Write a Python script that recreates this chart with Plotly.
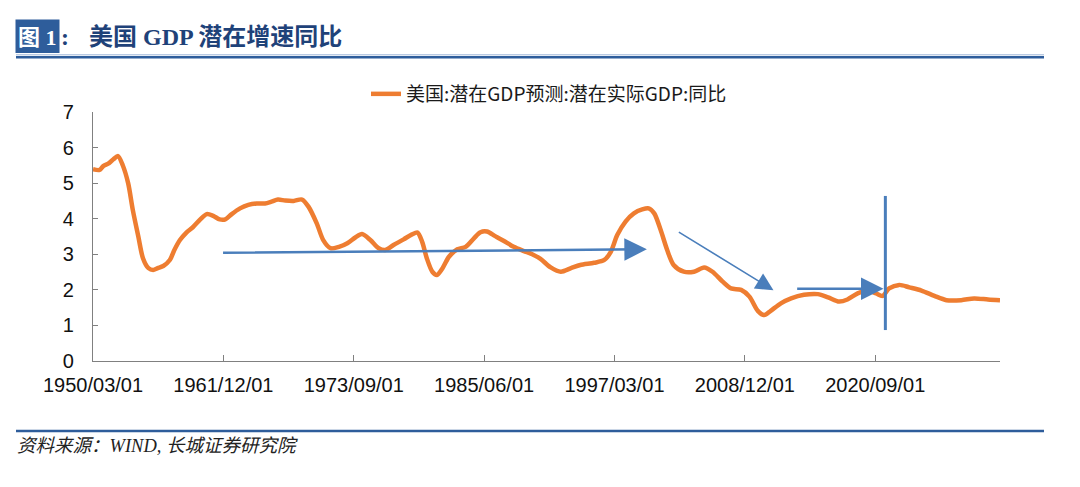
import plotly.graph_objects as go

# ---- data ----
dates = [
    "1950-03-01", "1950-10-01", "1951-02-01", "1951-07-01", "1952-01-01", "1952-06-01", "1952-11-01",
    "1953-05-01", "1953-10-01", "1954-04-01", "1954-09-01", "1955-03-01", "1955-08-01", "1956-01-01",
    "1956-07-01", "1957-02-01", "1957-07-01", "1958-01-01", "1958-08-01", "1959-03-01", "1959-11-01",
    "1960-06-01", "1961-01-01", "1961-08-01", "1962-02-01", "1962-09-01", "1963-06-01", "1964-03-01",
    "1964-12-01", "1965-09-01", "1966-04-01", "1966-11-01", "1967-07-01", "1968-04-01", "1969-01-01",
    "1969-08-01", "1970-05-01", "1970-12-01", "1971-08-01", "1972-05-01", "1973-02-01", "1973-11-01",
    "1974-06-01", "1975-03-01", "1975-12-01", "1976-07-01", "1977-04-01", "1978-03-01", "1978-12-01",
    "1979-06-01", "1979-11-01", "1980-04-01", "1980-10-01", "1981-03-01", "1981-09-01", "1982-04-01",
    "1983-01-01", "1983-10-01", "1984-07-01", "1985-02-01", "1985-09-01", "1986-06-01", "1987-03-01",
    "1988-02-01", "1989-01-01", "1989-10-01", "1990-07-01", "1991-06-01", "1992-05-01", "1993-04-01",
    "1994-02-01", "1995-05-01", "1996-04-01", "1996-11-01", "1997-06-01", "1998-03-01", "1998-12-01",
    "1999-09-01", "2000-04-01", "2000-10-01", "2001-05-01", "2001-12-01", "2002-07-01", "2003-06-01",
    "2004-05-01", "2005-04-01", "2006-01-01", "2006-12-01", "2007-09-01", "2008-08-01", "2009-05-01",
    "2010-02-01", "2010-09-01", "2011-04-01", "2012-03-01", "2013-02-01", "2014-04-01", "2015-07-01",
    "2016-06-01", "2017-06-01", "2018-03-01", "2019-02-01", "2020-01-01", "2020-10-01", "2021-05-01",
    "2021-12-01", "2022-11-01", "2023-10-01", "2024-11-01", "2026-01-01", "2027-02-01", "2028-06-01",
    "2029-08-01", "2030-11-01", "2031-12-01",
]
potential_gdp_yoy = [
    5.39, 5.37, 5.48, 5.54, 5.67, 5.76, 5.51,
    5.00, 4.25, 3.50, 2.89, 2.61, 2.56, 2.61,
    2.67, 2.84, 3.12, 3.40, 3.61, 3.76, 3.98,
    4.13, 4.08, 3.98, 3.98, 4.13, 4.29, 4.39,
    4.43, 4.43, 4.48, 4.54, 4.51, 4.50, 4.54,
    4.34, 3.87, 3.40, 3.17, 3.21, 3.31, 3.48,
    3.57, 3.40, 3.17, 3.12, 3.26, 3.42, 3.56,
    3.61, 3.35, 2.89, 2.51, 2.42, 2.61, 2.93,
    3.14, 3.21, 3.45, 3.62, 3.64, 3.51, 3.38,
    3.21, 3.09, 3.00, 2.87, 2.63, 2.51, 2.61,
    2.70, 2.76, 2.84, 3.07, 3.54, 3.92, 4.15,
    4.26, 4.29, 4.15, 3.68, 3.12, 2.70, 2.51,
    2.51, 2.63, 2.51, 2.23, 2.04, 2.00, 1.81,
    1.41, 1.29, 1.41, 1.62, 1.76, 1.86, 1.88,
    1.79, 1.67, 1.73, 1.90, 1.98, 1.90, 1.83,
    2.04, 2.14, 2.07, 1.98, 1.83, 1.71, 1.71,
    1.76, 1.73, 1.71,
]
series_name = "美国:潜在GDP预测:潜在实际GDP:同比"
tick_dates = ["1950-03-01", "1961-12-01", "1973-09-01", "1985-06-01",
              "1997-03-01", "2008-12-01", "2020-09-01"]
tick_labels = ["1950/03/01", "1961/12/01", "1973/09/01", "1985/06/01",
               "1997/03/01", "2008/12/01", "2020/09/01"]
y_ticks = [0, 1, 2, 3, 4, 5, 6, 7]

# ---- layout geometry ----
W, H = 1080, 487
L, R, T, B = 93, 1000, 112, 361


def px(xp):
    return (xp - L) / (R - L)


def py(yp):
    return (B - yp) / (B - T)


ORANGE = "#EE7D31"
BLUE = "#4A7EBB"
NAVY = "#1F4279"
BAR = "#2E5D9B"

fig = go.Figure()
fig.add_trace(go.Scatter(
    x=dates, y=potential_gdp_yoy, mode="lines", name=series_name,
    line=dict(color=ORANGE, width=4.5, shape="spline", smoothing=0.8),
))

fig.update_layout(
    width=W, height=H,
    margin=dict(l=L, r=W - R, t=T, b=H - B, autoexpand=False),
    paper_bgcolor="white", plot_bgcolor="white",
    showlegend=True,
    legend=dict(
        orientation="h", x=px(366), y=py(94), xanchor="left", yanchor="middle",
        font=dict(family="Noto Sans CJK SC", size=19, color="#1a1a1a"),
        bgcolor="rgba(0,0,0,0)",
    ),
    xaxis=dict(
        type="date", range=["1950-03-01", "2031-12-01"],
        tickvals=tick_dates, ticktext=tick_labels,
        ticks="inside", ticklen=6, tickcolor="#808080",
        showline=True, linecolor="#808080", linewidth=1.2,
        showgrid=False, zeroline=False,
        tickfont=dict(family="Liberation Sans", size=20, color="#111"),
        ticklabelstandoff=6,
    ),
    yaxis=dict(
        range=[0, 7], tickvals=y_ticks,
        ticks="inside", ticklen=5, tickcolor="#808080",
        showline=True, linecolor="#808080", linewidth=1.2,
        showgrid=False, zeroline=False,
        tickfont=dict(family="Liberation Sans", size=20, color="#111"),
        ticklabelstandoff=14,
    ),
)

# ---- annotation arrows (data coordinates) ----
arrows = [
    # (tail_x, tail_y, head_x, head_y, width)
    ("1961-10-01", 3.04, "2000-02-01", 3.14, 2.5),
    ("2002-11-01", 3.65, "2011-07-01", 1.99, 1.6),
    ("2013-07-01", 2.03, "2021-06-01", 2.03, 2.5),
]
for tx, ty, hx, hy, w in arrows:
    fig.add_annotation(
        x=hx, y=hy, ax=tx, ay=ty, xref="x", yref="y", axref="x", ayref="y",
        text="", showarrow=True, arrowhead=2, arrowsize=2.2 if w < 2 else 1.8,
        arrowwidth=w, arrowcolor=BLUE, standoff=0,
    )
fig.add_shape(type="line", xref="x", yref="y", x0="2021-08-01", x1="2021-08-01",
              y0=0.87, y1=4.64, line=dict(color=BLUE, width=3))

# ---- header / footer ----
fig.add_shape(type="rect", xref="paper", yref="paper",
              x0=px(15.5), x1=px(59.5), y0=py(53), y1=py(19.5),
              fillcolor=BAR, line=dict(width=0), layer="below")
fig.add_annotation(xref="paper", yref="paper", x=px(37.5), y=py(37), xanchor="center", yanchor="middle",
                   text="<b>图 1</b>", showarrow=False,
                   font=dict(family="Liberation Serif, Noto Sans CJK SC", size=22, color="white"))
fig.add_annotation(xref="paper", yref="paper", x=px(59), y=py(37), xanchor="left", yanchor="middle",
                   text="<b>:</b>", showarrow=False,
                   font=dict(family="Liberation Serif, Noto Sans CJK SC", size=24, color=NAVY))
fig.add_annotation(xref="paper", yref="paper", x=px(87), y=py(37), xanchor="left", yanchor="middle",
                   text="<b>美国 GDP 潜在增速同比</b>", showarrow=False,
                   font=dict(family="Liberation Serif, Noto Sans CJK SC", size=24, color=NAVY))
fig.add_shape(type="line", xref="paper", yref="paper", x0=px(16), x1=px(1044), y0=py(54.8), y1=py(54.8),
              line=dict(color="#9DB5D8", width=1))
fig.add_shape(type="line", xref="paper", yref="paper", x0=px(16), x1=px(1044), y0=py(57.3), y1=py(57.3),
              line=dict(color=BAR, width=2.5))
fig.add_shape(type="line", xref="paper", yref="paper", x0=px(16), x1=px(1044), y0=py(431), y1=py(431),
              line=dict(color=BAR, width=2.5))
fig.add_annotation(xref="paper", yref="paper", x=px(15), y=py(446), xanchor="left", yanchor="middle",
                   text="<i>资料来源：WIND, 长城证券研究院</i>", showarrow=False,
                   font=dict(family="Liberation Serif, Noto Sans CJK SC", size=18.5, color="#222"))

fig.write_html("out.html", config={"displayModeBar": False},
               post_script="document.body.style.margin='0px';")
